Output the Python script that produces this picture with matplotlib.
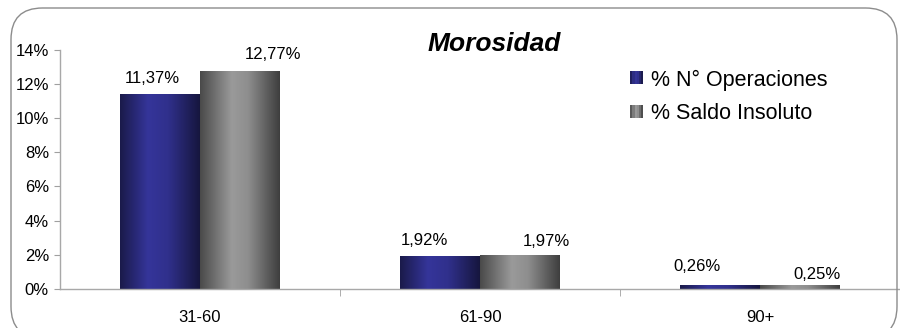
import numpy as np
import matplotlib
matplotlib.use("Agg")
import matplotlib.pyplot as plt
from matplotlib.patches import FancyBboxPatch, Rectangle
from matplotlib.legend_handler import HandlerBase
from matplotlib.colors import LinearSegmentedColormap

plt.rcParams["font.family"] = ["Liberation Sans", "DejaVu Sans"]

categories = ["31-60", "61-90", "90+"]
operaciones = [11.37, 1.92, 0.26]
saldo = [12.77, 1.97, 0.25]
series_names = ["% N\u00b0 Operaciones", "% Saldo Insoluto"]
y_ticks = [0, 2, 4, 6, 8, 10, 12, 14]

# label nudges (pixels) for the value labels: (dx, dy) per bar
ops_nudge = [(-8, 8), (-16, 8), (-23, 11)]
saldo_nudge = [(33, 9), (26, 6), (17, 3)]

blue_cmap = LinearSegmentedColormap.from_list(
    "blue", [(0, "#1a1a4a"), (0.35, "#35359a"), (0.6, "#30308c"), (1, "#16163e")])
gray_cmap = LinearSegmentedColormap.from_list(
    "gray", [(0, "#4a4a4a"), (0.4, "#9a9a9a"), (0.6, "#8e8e8e"), (1, "#3e3e3e")])


def fmt(v):
    return f"{v:.2f}".replace(".", ",") + "%"


def shade_bars(ax, bars, cmap):
    grad = np.linspace(0, 1, 256).reshape(1, -1)
    for b in bars:
        x0, y0 = b.get_x(), b.get_y()
        im = ax.imshow(grad, cmap=cmap, aspect="auto", interpolation="bilinear",
                       extent=[x0, x0 + b.get_width(), y0, y0 + b.get_height()],
                       zorder=b.get_zorder() + 0.1)
        im.set_clip_path(b)


class StripHandler(HandlerBase):
    def __init__(self, cmap):
        super().__init__()
        self.cmap = cmap

    def create_artists(self, legend, orig_handle, xdescent, ydescent,
                       width, height, fontsize, trans):
        n = 6
        side = height * 0.95
        x0 = -xdescent + width - side
        y0 = -ydescent + (height - side) / 2
        out = []
        for i in range(n):
            c = self.cmap((i + 0.5) / n)
            r = Rectangle((x0 + i * side / n, y0), side / n, side,
                          facecolor=c, edgecolor="none", transform=trans)
            out.append(r)
        return out


fig = plt.figure(figsize=(9, 3.28), dpi=100)
ax = fig.add_axes([60 / 900, 39 / 328, 840 / 900, 239.5 / 328])

# rounded chart border
fig.patches.append(FancyBboxPatch((11 / 900, -10 / 328), 886 / 900, 330 / 328,
                                  boxstyle="round,pad=0,rounding_size=0.035",
                                  transform=fig.transFigure, facecolor="none",
                                  edgecolor="#8c8c8c", lw=1.0, zorder=0,
                                  mutation_aspect=900 / 328))

x = np.arange(len(categories))
w = 0.285
b1 = ax.bar(x - w / 2, operaciones, w, color="#2e2e84", zorder=2)
b2 = ax.bar(x + w / 2, saldo, w, color="#7a7a7a", zorder=2)
shade_bars(ax, b1, blue_cmap)
shade_bars(ax, b2, gray_cmap)

for bars, vals, nudges in ((b1, operaciones, ops_nudge), (b2, saldo, saldo_nudge)):
    for b, v, (dx, dy) in zip(bars, vals, nudges):
        ax.annotate(fmt(v), (b.get_x() + b.get_width() / 2, v),
                    xytext=(dx * 0.72, dy * 0.72), textcoords="offset points",
                    ha="center", va="bottom", fontsize=12, color="black")

ax.set_xlim(-0.5, 2.5)
ax.set_ylim(0, 14)
ax.set_yticks(y_ticks)
ax.set_yticklabels([f"{t}%" for t in y_ticks], fontsize=12)
ax.set_xticks(x)
ax.set_xticklabels(categories, fontsize=12)
ax.set_xticks([0.5, 1.5], minor=True)
ax.tick_params(axis="x", which="major", length=0, pad=15)
ax.tick_params(axis="x", which="minor", length=5, color="#a0a0a0", direction="out")
ax.tick_params(axis="y", length=4, color="#a0a0a0", pad=4)
for s in ("top", "right"):
    ax.spines[s].set_visible(False)
for s in ("left", "bottom"):
    ax.spines[s].set_color("#a8a8a8")
    ax.spines[s].set_linewidth(1.0)
ax.patch.set_visible(False)

fig.text(494 / 900, 1 - 44 / 328, "Morosidad", fontsize=19, fontweight="bold",
         fontstyle="italic", ha="center", va="center")

leg = ax.legend([b1, b2], series_names, loc="upper left",
                bbox_to_anchor=(611 / 900, 1 - 50 / 328), bbox_transform=fig.transFigure,
                frameon=False, fontsize=15.5, handlelength=0.6, handleheight=0.6,
                handletextpad=0.35, labelspacing=0.6,
                handler_map={b1: StripHandler(blue_cmap), b2: StripHandler(gray_cmap)})

fig.savefig("out.png", dpi=100)
